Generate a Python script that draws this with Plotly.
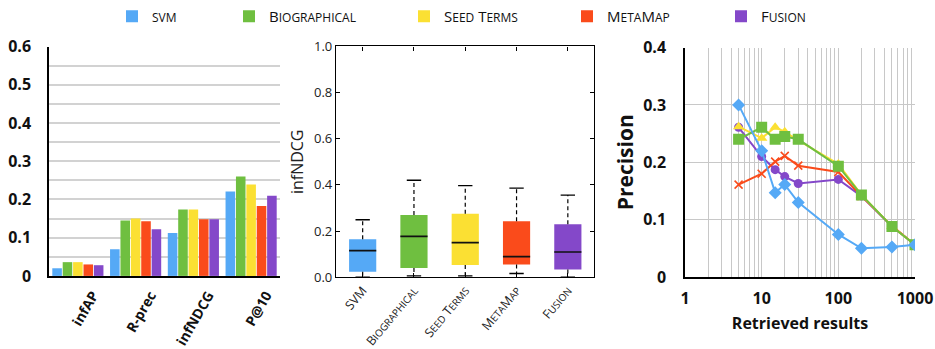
import re
import plotly.graph_objects as go

# ---------------- data ----------------
methods = ["svm", "Biographical", "Seed Terms", "MetaMap", "Fusion"]
colors = ["#55a9f6", "#6fbf40", "#fbe033", "#fa4b1b", "#8448c9"]

metrics = ["infAP", "R-prec", "infNDCG", "P@10"]
svm_bars = [0.020, 0.070, 0.112, 0.221]
bio_bars = [0.036, 0.145, 0.174, 0.260]
seed_bars = [0.036, 0.150, 0.174, 0.239]
meta_bars = [0.030, 0.143, 0.148, 0.183]
fusion_bars = [0.028, 0.122, 0.148, 0.210]
bar_ytick_vals = [0, 0.1, 0.2, 0.3, 0.4, 0.5, 0.6]
bar_ytick_text = ["0", "0.1", "0.2", "0.3", "0.4", "0.5", "0.6"]

box_labels = ["SVM", "Biographical", "Seed Terms", "MetaMap", "Fusion"]
box_lower = [0.000, 0.006, 0.006, 0.016, 0.000]
box_q1 = [0.024, 0.040, 0.053, 0.055, 0.033]
box_median = [0.115, 0.177, 0.150, 0.089, 0.109]
box_q3 = [0.164, 0.269, 0.275, 0.242, 0.229]
box_upper = [0.249, 0.420, 0.397, 0.386, 0.356]

retrieved = [5, 10, 15, 20, 30, 100, 200, 500, 1000]
svm_prec = [0.300, 0.220, 0.147, 0.161, 0.130, 0.074, 0.050, 0.052, 0.056]
bio_prec = [0.240, 0.261, 0.240, 0.245, 0.240, 0.193, 0.143, 0.088, 0.056]
seed_prec = [0.262, 0.242, 0.261, 0.253, 0.238, 0.197, 0.143, 0.088, 0.056]
meta_prec = [0.161, 0.180, 0.201, 0.211, 0.194, 0.183, 0.141, 0.089, 0.056]
fusion_prec = [0.261, 0.210, 0.187, 0.175, 0.163, 0.170, 0.141, 0.088, 0.056]
line_xtick_vals = [1, 10, 100, 1000]
line_ytick_vals = [0, 0.1, 0.2, 0.3, 0.4]
line_ytick_text = ["0", "0.1", "0.2", "0.3", "0.4"]


def smallcaps(text, size):
    return re.sub(r"[a-z]+",
                  lambda m: "<span style='font-size:%dpx'>%s</span>" % (size, m.group(0).upper()),
                  text)


W, H = 935, 349
FONT = "Open Sans"

fig = go.Figure()

# ---------------- bar chart ----------------
bar_series = [svm_bars, bio_bars, seed_bars, meta_bars, fusion_bars]
legend_x = [126, 243, 418, 581, 735]
for i, (name, vals) in enumerate(zip(methods, bar_series)):
    lg = "legend" if i == 0 else "legend%d" % (i + 1)
    fig.add_trace(go.Bar(
        x=metrics, y=vals, name=smallcaps(name, 12),
        marker=dict(color=colors[i], line=dict(width=0)),
        xaxis="x", yaxis="y", legend=lg, showlegend=True,
    ))

# ---------------- box chart ----------------
pos = list(range(len(box_labels)))
bw, cw = 0.53, 0.28
for i in pos:
    fig.add_trace(go.Bar(
        x=[pos[i]], y=[box_q3[i] - box_q1[i]], base=[box_q1[i]], width=bw,
        marker=dict(color=colors[i], line=dict(width=0)),
        xaxis="x2", yaxis="y2", showlegend=False, hoverinfo="skip",
    ))
med_x, med_y, wh_x, wh_y, cap_x, cap_y = [], [], [], [], [], []
for i in pos:
    med_x += [pos[i] - bw / 2, pos[i] + bw / 2, None]
    med_y += [box_median[i], box_median[i], None]
    wh_x += [pos[i], pos[i], None, pos[i], pos[i], None]
    wh_y += [box_q3[i], box_upper[i], None, box_q1[i], box_lower[i], None]
    for v in (box_upper[i], box_lower[i]):
        cap_x += [pos[i] - cw / 2, pos[i] + cw / 2, None]
        cap_y += [v, v, None]
fig.add_trace(go.Scatter(x=wh_x, y=wh_y, mode="lines", line=dict(color="black", width=1.2, dash="4px,3px"),
                         xaxis="x2", yaxis="y2", showlegend=False, hoverinfo="skip"))
fig.add_trace(go.Scatter(x=cap_x, y=cap_y, mode="lines", line=dict(color="black", width=1.3),
                         xaxis="x2", yaxis="y2", showlegend=False, hoverinfo="skip"))
fig.add_trace(go.Scatter(x=med_x, y=med_y, mode="lines", line=dict(color="#111", width=1.6),
                         xaxis="x2", yaxis="y2", showlegend=False, hoverinfo="skip"))

# ---------------- line chart ----------------
line_series = [fusion_prec, meta_prec, seed_prec, bio_prec, svm_prec]
line_idx = [4, 3, 2, 1, 0]
symbols = {0: "diamond", 1: "square", 2: "triangle-up", 3: "x-thin", 4: "circle"}
sizes = {0: 10, 1: 11, 2: 10, 3: 8, 4: 9}
for k, vals in zip(line_idx, line_series):
    mk = dict(symbol=symbols[k], size=sizes[k], color=colors[k])
    if k == 3:
        mk["line"] = dict(color=colors[k], width=1.6)
    fig.add_trace(go.Scatter(
        x=retrieved, y=vals, mode="lines+markers", name=methods[k],
        line=dict(color=colors[k], width=2), marker=mk,
        xaxis="x3", yaxis="y3", showlegend=False,
    ))


def px_x(a, b):
    return [a / W, b / W]


def px_y(top, bottom):
    return [1 - bottom / H, 1 - top / H]


layout = dict(
    width=W, height=H,
    margin=dict(l=0, r=0, t=0, b=0),
    paper_bgcolor="white", plot_bgcolor="white",
    font=dict(family=FONT, color="#111"),
    barmode="group", bargap=0.1, bargroupgap=0.08,
    xaxis=dict(domain=px_x(49, 280), showline=True, linecolor="black", linewidth=1.5,
               tickangle=-60, tickfont=dict(size=14, weight="bold", color="#111"),
               ticks="", fixedrange=True, automargin=False,
               ticklabelstandoff=4, ticklabelshift=15),
    yaxis=dict(domain=px_y(45.7, 275.7), range=[0, 0.6], showline=True, linecolor="black", linewidth=1.5,
               tickvals=bar_ytick_vals, ticktext=bar_ytick_text,
               tickfont=dict(size=16, weight="bold", color="#111"),
               showgrid=True, gridcolor="#d2d2d2", gridwidth=1.5,
               minor=dict(dtick=0.05, showgrid=True, gridcolor="#d2d2d2", gridwidth=1.5),
               ticklabelstandoff=13, zeroline=False, automargin=False),
    xaxis2=dict(domain=px_x(336, 594), anchor="y2", range=[-0.52, 4.51],
                tickvals=pos, ticktext=[smallcaps(t, 10) for t in box_labels],
                tickangle=-50, tickfont=dict(size=12.5, color="#222"),
                showline=True, linecolor="black", linewidth=1.3, mirror="ticks",
                ticks="inside", ticklen=4, tickcolor="black", showgrid=False, zeroline=False,
                automargin=False),
    yaxis2=dict(domain=px_y(45.5, 277), anchor="x2", range=[0, 1.0], dtick=0.2, tickformat=".1f",
                tickfont=dict(size=13, color="#222"),
                showline=True, linecolor="black", linewidth=1.3, mirror="ticks",
                ticks="inside", ticklen=4, tickcolor="black", showgrid=False, zeroline=False,
                automargin=False,
                title=dict(text="infNDCG", font=dict(size=16, color="#222"), standoff=6)),
    xaxis3=dict(domain=px_x(685, 915), anchor="y3", type="log", range=[0, 3],
                tickvals=line_xtick_vals, ticktext=[str(v) for v in line_xtick_vals],
                tickfont=dict(size=16, weight="bold", color="#111"),
                showline=True, linecolor="black", linewidth=1.5,
                showgrid=True, gridcolor="#c8c8c8", gridwidth=1,
                minor=dict(dtick="D1", showgrid=True, gridcolor="#c8c8c8", gridwidth=1),
                ticklabelstandoff=6, zeroline=False, automargin=False,
                title=dict(text="Retrieved results", font=dict(size=16, weight="bold", color="#111"), standoff=10)),
    yaxis3=dict(domain=px_y(46.7, 276.7), anchor="x3", range=[0, 0.4],
                tickvals=line_ytick_vals, ticktext=line_ytick_text,
                tickfont=dict(size=16, weight="bold", color="#111"),
                showline=True, linecolor="black", linewidth=1.5,
                showgrid=True, gridcolor="#c8c8c8", gridwidth=1,
                ticklabelstandoff=14, zeroline=False, automargin=False,
                title=dict(text="Precision", font=dict(size=21, weight="bold", color="#111"), standoff=4)),
)
for i, lx in enumerate(legend_x):
    key = "legend" if i == 0 else "legend%d" % (i + 1)
    layout[key] = dict(x=(lx - 14) / W, xanchor="left", y=1 - 16 / H, yanchor="middle",
                       orientation="h", bgcolor="rgba(0,0,0,0)",
                       font=dict(size=15, color="#111", family=FONT))
fig.update_layout(**layout)

fig.write_html("out.html", config={"displayModeBar": False},
               post_script="document.body.style.margin='0';")
